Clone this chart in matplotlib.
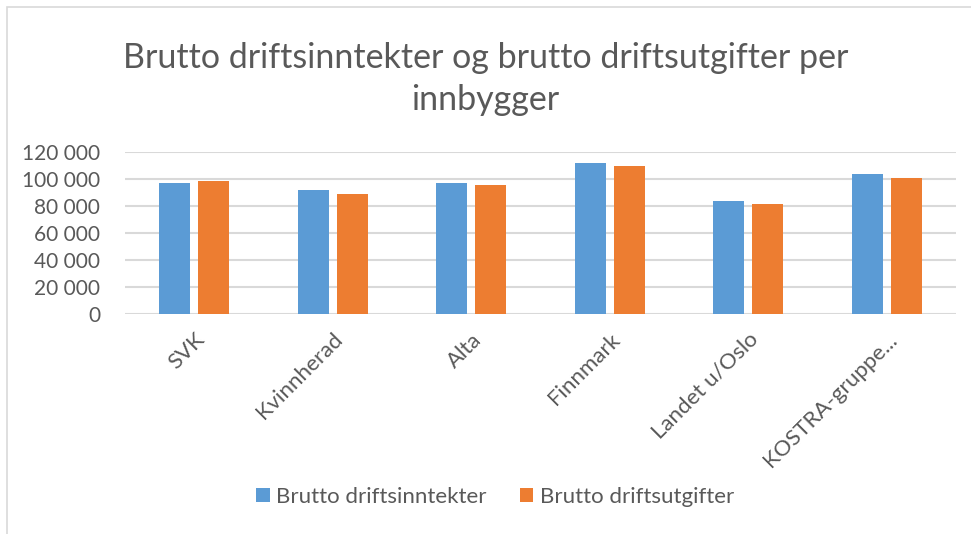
import matplotlib.pyplot as plt
import numpy as np
from matplotlib.patches import Rectangle
from matplotlib.ticker import FuncFormatter

# data
kommuner = ["SVK", "Kvinnherad", "Alta", "Finnmark", "Landet u/Oslo", "KOSTRA-gruppe..."]
inntekter = [96900, 91500, 96700, 111600, 83800, 103900]
utgifter = [98400, 88800, 95500, 109300, 81300, 100900]

plt.rcParams['font.family'] = ['Lato', 'DejaVu Sans']
grey = '#595959'

fig = plt.figure(figsize=(9.71, 5.34), dpi=100)
ax = fig.add_axes([125/971, 1 - 314/534, (956-125)/971, (314-152)/534])

x = np.arange(len(kommuner))
w = 0.224
ax.bar(x - 0.14, inntekter, w, color='#5B9BD5', label='Brutto driftsinntekter', zorder=3)
ax.bar(x + 0.14, utgifter, w, color='#ED7D31', label='Brutto driftsutgifter', zorder=3)

ax.set_xlim(-0.5, len(kommuner) - 0.5)
ax.set_ylim(0, 120000)
ax.set_yticks(range(0, 120001, 20000))
ax.yaxis.set_major_formatter(FuncFormatter(lambda v, p: f"{int(v):,}".replace(",", " ")))
ax.grid(axis='y', color='#d9d9d9', linewidth=1.5, zorder=0)
for s in ax.spines.values():
    s.set_visible(False)
ax.tick_params(length=0, colors=grey)
ax.tick_params(axis='y', labelsize=15, pad=18)
ax.set_xticks(x)
ax.set_xticklabels(kommuner, rotation=45, ha='right', rotation_mode='anchor')
ax.tick_params(axis='x', labelsize=16, pad=11)

fig.text(0.5, 1 - 58/534, "Brutto driftsinntekter og brutto driftsutgifter per",
         ha='center', va='center', fontsize=24.5, color=grey)
fig.text(0.5, 1 - 100/534, "innbygger", ha='center', va='center', fontsize=24.5, color=grey)

fig.legend(loc='center', bbox_to_anchor=(0.51, 1 - 497/534), ncol=2, frameon=False,
           fontsize=16, labelcolor=grey, handlelength=0.6, handleheight=0.6,
           handletextpad=0.3, columnspacing=1.5)

fig.patches.append(Rectangle((7/971, -0.1), 1.2, 1 - 7/534 + 0.1, transform=fig.transFigure,
                             fill=False, edgecolor='#d9d9d9', linewidth=1.2))

fig.savefig('out.png', dpi=100)
